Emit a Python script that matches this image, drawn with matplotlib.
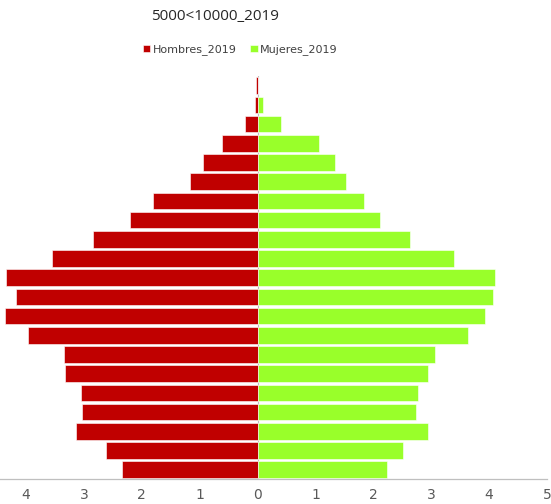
import matplotlib
matplotlib.use('Agg')
import matplotlib.pyplot as plt
from matplotlib.ticker import FuncFormatter
import numpy as np

# age groups, bottom (0-4) to top (100+)
age_groups = ['0-4', '5-9', '10-14', '15-19', '20-24', '25-29', '30-34',
              '35-39', '40-44', '45-49', '50-54', '55-59', '60-64', '65-69',
              '70-74', '75-79', '80-84', '85-89', '90-94', '95-99', '100+']

# percentages, listed bottom to top
hombres_2019 = [2.34, 2.62, 3.14, 3.04, 3.05, 3.32, 3.34, 3.97, 4.36, 4.18,
                4.34, 3.56, 2.85, 2.21, 1.80, 1.17, 0.94, 0.61, 0.21, 0.04, 0.03]
mujeres_2019 = [2.23, 2.52, 2.94, 2.74, 2.78, 2.94, 3.07, 3.63, 3.93, 4.06,
                4.11, 3.40, 2.63, 2.11, 1.84, 1.53, 1.34, 1.06, 0.40, 0.10, 0.0]

xticks = [-4, -3, -2, -1, 0, 1, 2, 3, 4, 5]

RED = '#C00000'
GREEN = '#99FF2A'

fig = plt.figure(figsize=(5.51, 5.04), dpi=100)
ax = fig.add_axes([0.0, 0.049, 547 / 551, 0.800])

y = np.arange(len(age_groups))
ax.barh(y, -np.array(hombres_2019), height=0.87, color=RED,
        edgecolor='white', linewidth=0.4, label='Hombres_2019')
ax.barh(y, mujeres_2019, height=0.87, color=GREEN,
        edgecolor='white', linewidth=0.4, label='Mujeres_2019')

ax.axvline(0, color='#BFBFBF', linewidth=0.8, zorder=0.5)

ax.set_xlim(-4.45, 5)
ax.set_ylim(-0.5, len(age_groups) - 0.5)
ax.set_yticks([])
ax.set_xticks(xticks)
ax.xaxis.set_major_formatter(FuncFormatter(lambda v, p: f'{abs(v):g}'))
ax.tick_params(axis='x', length=0, pad=6, labelsize=10, colors='#595959')

for side in ['top', 'right', 'left']:
    ax.spines[side].set_visible(False)
ax.spines['bottom'].set_color('#BFBFBF')
ax.spines['bottom'].set_linewidth(0.9)

fig.text(0.39, 0.967, '5000<10000_2019', ha='center', va='center',
         fontsize=11, color='#262626', family='Open Sans')

ax.legend(loc='center', bbox_to_anchor=(240 / 547, 1.065), ncol=2,
          frameon=False, fontsize=8, handlelength=0.7, handleheight=0.7,
          handletextpad=0.2, columnspacing=1.2, labelcolor='#404040')

plt.savefig('out.png', dpi=100)
plt.close()
